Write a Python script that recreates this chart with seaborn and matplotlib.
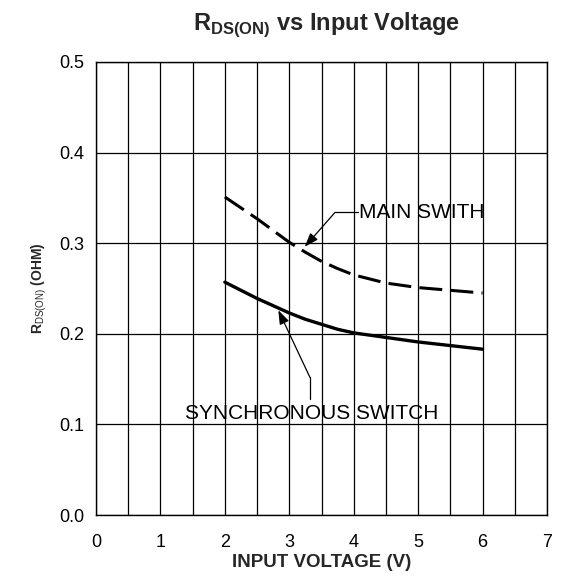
import numpy as np
import pandas as pd
import matplotlib
matplotlib.use("Agg")
import matplotlib.pyplot as plt
import seaborn as sns

# Data
main_v = [2.0, 2.25, 2.5, 2.75, 3.0, 3.25, 3.5, 3.75, 4.0, 4.5, 5.0, 5.5, 6.0]
main_r = [0.351, 0.339, 0.327, 0.314, 0.301, 0.290, 0.280, 0.272, 0.265,
          0.256, 0.251, 0.248, 0.245]
sync_v = [2.0, 2.25, 2.5, 2.75, 3.0, 3.25, 3.5, 3.75, 4.0, 4.5, 5.0, 5.5, 6.0]
sync_r = [0.257, 0.248, 0.239, 0.231, 0.223, 0.216, 0.2105, 0.205, 0.201,
          0.196, 0.191, 0.187, 0.183]
x_ticks = [0, 1, 2, 3, 4, 5, 6, 7]
y_ticks = [0.0, 0.1, 0.2, 0.3, 0.4, 0.5]

sns.set_theme(style="white")
plt.rcParams["font.family"] = ["Liberation Sans", "DejaVu Sans"]
plt.rcParams["mathtext.fontset"] = "custom"
plt.rcParams["mathtext.rm"] = "Liberation Sans"
plt.rcParams["mathtext.bf"] = "Liberation Sans:bold"

W, H = 561, 576
fig = plt.figure(figsize=(W / 100, H / 100), dpi=100)
ax = fig.add_axes([96 / W, 1 - 515 / H, (547 - 96) / W, (515 - 62) / H])

df_main = pd.DataFrame({"v": main_v, "r": main_r})
df_sync = pd.DataFrame({"v": sync_v, "r": sync_r})
sns.lineplot(data=df_main, x="v", y="r", ax=ax, color="black", lw=2.2, zorder=5)
ax.lines[-1].set_dashes((7.5, 2.7))
sns.lineplot(data=df_sync, x="v", y="r", ax=ax, color="black", lw=2.4, zorder=5)

ax.set_xlim(0, 7)
ax.set_ylim(0, 0.5)
ax.set_xticks(x_ticks)
ax.set_xticklabels([str(t) for t in x_ticks])
ax.set_xticks(np.arange(0, 7.01, 0.5), minor=True)
ax.set_yticks(y_ticks)
ax.set_yticklabels([f"{t:.1f}" for t in y_ticks])
ax.grid(True, which="both", axis="x", color="black", lw=0.9)
ax.grid(True, which="major", axis="y", color="black", lw=0.9)
for s in ax.spines.values():
    s.set_color("black")
    s.set_linewidth(1.0)
ax.tick_params(axis="both", which="both", length=0, labelsize=13, colors="black")
ax.tick_params(axis="x", pad=14)
ax.tick_params(axis="y", pad=8.5)

ax.set_xlabel("INPUT VOLTAGE (V)", fontsize=13.5, fontweight="bold", labelpad=2)
ax.set_ylabel(r"R$_{\mathrm{DS(ON)}}$ (OHM)", fontsize=10, fontweight="bold", labelpad=7)
fig.text(326 / W, 1 - 24.5 / H, r"R$_{\mathbf{DS(ON)}}$ vs Input Voltage",
         fontsize=17, fontweight="bold", ha="center", va="center")

# Annotations
ax.annotate("", xy=(3.24, 0.296), xytext=(3.71, 0.334),
            arrowprops=dict(arrowstyle="-|>,head_length=0.7,head_width=0.25",
                            color="black", lw=0.9, shrinkA=0, shrinkB=0), zorder=6)
ax.plot([3.71, 4.07], [0.334, 0.334], color="black", lw=0.9, zorder=6)
ax.text(4.08, 0.334, "MAIN SWITH", fontsize=15, va="center", ha="left",
        color="black", zorder=7)

ax.annotate("", xy=(2.83, 0.226), xytext=(3.32, 0.152),
            arrowprops=dict(arrowstyle="-|>,head_length=0.7,head_width=0.25",
                            color="black", lw=0.9, shrinkA=0, shrinkB=0), zorder=6)
ax.plot([3.32, 3.32], [0.152, 0.128], color="black", lw=0.9, zorder=6)
ax.text(3.34, 0.1125, "SYNCHRONOUS SWITCH", fontsize=15, va="center", ha="center",
        color="black", zorder=7)

fig.savefig("out.png", dpi=100)
